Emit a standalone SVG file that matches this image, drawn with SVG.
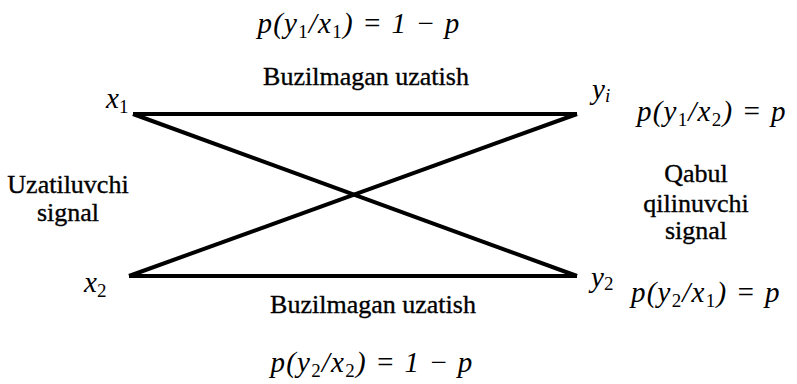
<svg xmlns="http://www.w3.org/2000/svg" width="797" height="384" viewBox="0 0 797 384">
<rect width="797" height="384" fill="#fff"/>
<g id="connectors" stroke="#000" stroke-width="4" fill="none">
<line x1="133" y1="114" x2="577" y2="114"/>
<line x1="129" y1="276" x2="577" y2="276"/>
<line x1="133" y1="114" x2="577" y2="276"/>
<line x1="129" y1="276" x2="577" y2="114"/>
</g>
<g id="x1"><text font-family="Liberation Serif" font-style="italic" font-size="29" x="106" y="108">x<tspan font-size="19" font-style="normal" dy="5">1</tspan></text></g>
<g id="x2"><text font-family="Liberation Serif" font-style="italic" font-size="29" x="84" y="292">x<tspan font-size="19" font-style="normal" dy="5">2</tspan></text></g>
<g id="y1"><text font-family="Liberation Serif" font-style="italic" font-size="29" x="592" y="99">y<tspan font-size="19" dy="3">i</tspan></text></g>
<g id="y2"><text font-family="Liberation Serif" font-style="italic" font-size="29" x="591" y="287">y<tspan font-size="19" font-style="normal" dy="3">2</tspan></text></g>
<g id="formulas">
<text font-family="Liberation Serif" font-style="italic" font-size="29" letter-spacing="1.2" text-anchor="middle" x="359" y="33">p(y<tspan font-size="19" font-style="normal" dy="5">1</tspan><tspan dy="-5">/x</tspan><tspan font-size="19" font-style="normal" dy="5">1</tspan><tspan dy="-5">) = 1 − p</tspan></text>
<text font-family="Liberation Serif" font-style="italic" font-size="29" letter-spacing="1.2" x="637" y="121">p(y<tspan font-size="19" font-style="normal" dy="5">1</tspan><tspan dy="-5">/x</tspan><tspan font-size="19" font-style="normal" dy="5">2</tspan><tspan dy="-5">) = p</tspan></text>
<text font-family="Liberation Serif" font-style="italic" font-size="29" letter-spacing="1.2" x="631" y="302">p(y<tspan font-size="19" font-style="normal" dy="5">2</tspan><tspan dy="-5">/x</tspan><tspan font-size="19" font-style="normal" dy="5">1</tspan><tspan dy="-5">) = p</tspan></text>
<text font-family="Liberation Serif" font-style="italic" font-size="29" letter-spacing="1.2" text-anchor="middle" x="372" y="372">p(y<tspan font-size="19" font-style="normal" dy="5">2</tspan><tspan dy="-5">/x</tspan><tspan font-size="19" font-style="normal" dy="5">2</tspan><tspan dy="-5">) = 1 − p</tspan></text>
</g>
<g id="labels" stroke="#000" stroke-width="0.35">
<text font-family="Liberation Serif" font-size="26" text-anchor="middle" x="366" y="85">Buzilmagan uzatish</text>
<text font-family="Liberation Serif" font-size="26" text-anchor="middle" x="68" y="193">Uzatiluvchi</text>
<text font-family="Liberation Serif" font-size="26" text-anchor="middle" x="68" y="221">signal</text>
<text font-family="Liberation Serif" font-size="26" text-anchor="middle" x="696" y="182">Qabul</text>
<text font-family="Liberation Serif" font-size="26" text-anchor="middle" x="696" y="212">qilinuvchi</text>
<text font-family="Liberation Serif" font-size="26" text-anchor="middle" x="696" y="239">signal</text>
<text font-family="Liberation Serif" font-size="26" text-anchor="middle" x="373" y="313">Buzilmagan uzatish</text>
</g>
</svg>
